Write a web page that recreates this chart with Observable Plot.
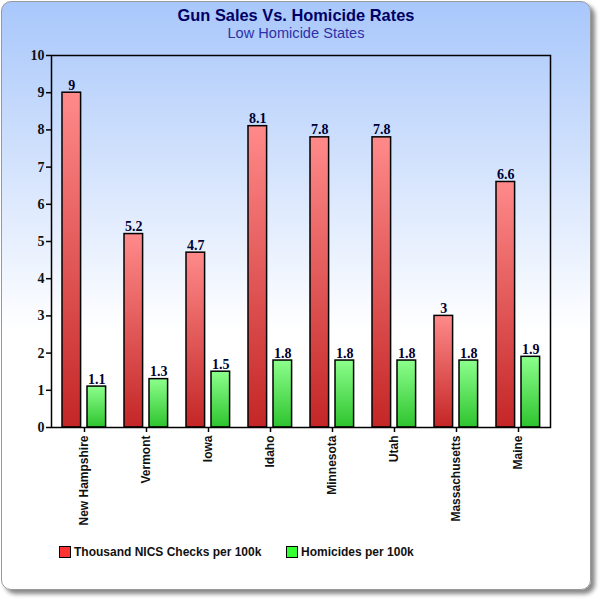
<!DOCTYPE html>
<html>
<head>
<meta charset="utf-8">
<script src="https://cdn.jsdelivr.net/npm/d3@7"></script>
<script src="https://cdn.jsdelivr.net/npm/@observablehq/plot@0.6"></script>
<style>
  html, body { margin: 0; padding: 0; background: #fff; }
  body { width: 600px; height: 600px; position: relative; overflow: hidden; font-family: "Liberation Sans", Arial, sans-serif; }
  #card {
    position: absolute; left: 1px; top: 1px; width: 588px; height: 587px;
    border: 1px solid #999; border-radius: 10px;
    box-shadow: 4px 4px 4px #888;
    background: linear-gradient(to bottom, #a8c7fb 0%, #ffffff 56%, #ffffff 100%);
  }
  #title { position: absolute; left: 0; width: 592px; top: 6px; text-align: center; font-weight: bold; font-size: 16.4px; color: #000066; }
  #subtitle { position: absolute; left: 0; width: 592px; top: 25px; text-align: center; font-size: 14.6px; color: #2f2fa8; }
  #chart { position: absolute; left: 0; top: 45px; }
  #legend { position: absolute; left: 0; top: 545px; width: 600px; height: 20px; font-weight: bold; font-size: 12px; color: #111; }
  .item { position: absolute; top: 0; display: flex; align-items: center; }
  .sw { width: 10px; height: 10px; border: 1px solid #000; margin-right: 3px; }
</style>
</head>
<body>
<div id="card"></div>
<div id="title">Gun Sales Vs. Homicide Rates</div>
<div id="subtitle">Low Homicide States</div>
<div id="chart"></div>
<div id="legend"></div>
<script>
const states = ["New Hampshire", "Vermont", "Iowa", "Idaho", "Minnesota", "Utah", "Massachusetts", "Maine"];
const nicsChecks = [9, 5.2, 4.7, 8.1, 7.8, 7.8, 3, 6.6];
const homicides = [1.1, 1.3, 1.5, 1.8, 1.8, 1.8, 1.8, 1.9];
const seriesNames = ["Thousand NICS Checks per 100k", "Homicides per 100k"];
const seriesColors = ["#ff3333", "#33ff33"];
const yTicks = [0, 1, 2, 3, 4, 5, 6, 7, 8, 9, 10];

const nicsData = states.map((s, i) => ({state: s, value: nicsChecks[i]}));
const homData = states.map((s, i) => ({state: s, value: homicides[i]}));

const labelFont = {fontFamily: "'Liberation Serif', 'DejaVu Serif', serif", fontWeight: "bold", fontSize: 14};

const chart = Plot.plot({
  width: 600,
  height: 480,
  marginTop: 10,
  marginLeft: 51,
  marginRight: 50,
  marginBottom: 98,
  style: {background: "transparent", overflow: "visible"},
  x: {type: "band", domain: states, padding: 0, label: null},
  y: {domain: [0, 10], label: null},
  marks: [
    Plot.barY(nicsData, {x: "state", y: "value", fill: "url(#gradRed)", stroke: "#000", strokeWidth: 1.5, insetLeft: 9, insetRight: 34.4}),
    Plot.barY(homData, {x: "state", y: "value", fill: "url(#gradGreen)", stroke: "#000", strokeWidth: 1.5, insetLeft: 34, insetRight: 9.4}),
    Plot.text(nicsData, {x: "state", y: "value", text: d => String(d.value), dx: -12.7, dy: -3, lineAnchor: "bottom", fill: "#000033", ...labelFont}),
    Plot.text(homData, {x: "state", y: "value", text: d => String(d.value), dx: 12.3, dy: -3, lineAnchor: "bottom", fill: "#000033", ...labelFont}),
    Plot.frame({stroke: "#000", strokeWidth: 1.5}),
    Plot.axisY({ticks: yTicks, tickSize: 5, tickPadding: 2, tickFormat: d => String(d), stroke: "#000", strokeWidth: 1.5, fill: "#111", ...labelFont, label: null}),
    Plot.axisX({tickSize: 5, tickPadding: 3, tickRotate: -90, stroke: "#000", strokeWidth: 1.5, fill: "#111", fontFamily: "'Liberation Sans', Arial, sans-serif", fontWeight: "bold", fontSize: 12, label: null})
  ]
});

// gradient defs
const svg = d3.select(chart);
const defs = svg.insert("defs", ":first-child");
function grad(id, top, bottom) {
  const g = defs.append("linearGradient").attr("id", id).attr("x1", 0).attr("y1", 0).attr("x2", 0).attr("y2", 1);
  g.append("stop").attr("offset", "0%").attr("stop-color", top);
  g.append("stop").attr("offset", "100%").attr("stop-color", bottom);
}
grad("gradRed", "#ff8a8a", "#c42626");
grad("gradGreen", "#8cff8c", "#2ec42e");

document.getElementById("chart").appendChild(chart);

// legend
const legend = d3.select("#legend");
const legendX = [59, 286];
seriesNames.forEach((name, i) => {
  const item = legend.append("div").attr("class", "item").style("left", legendX[i] + "px");
  item.append("div").attr("class", "sw").style("background", seriesColors[i]);
  item.append("span").text(name);
});
</script>
</body>
</html>
